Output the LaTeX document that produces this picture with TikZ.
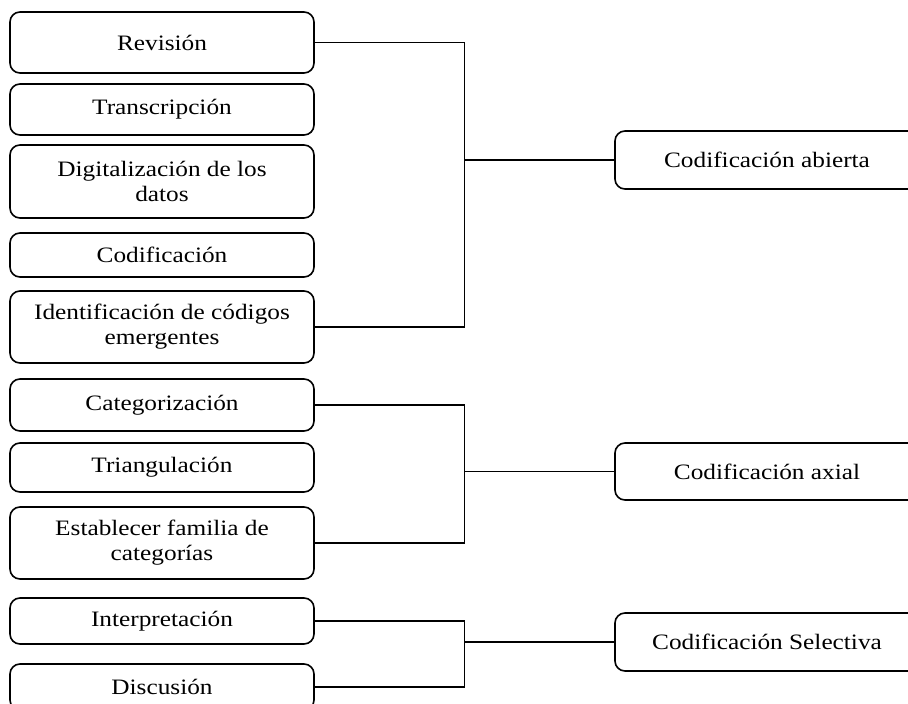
\documentclass[tikz,border=0pt]{standalone}
\usepackage{fontspec}
\setmainfont{Liberation Serif}[FakeStretch=1.15]
\usetikzlibrary{calc}

\begin{document}
\begin{tikzpicture}[
    x=1pt, y=-1pt,
    every node/.style={font=\fontsize{22}{25}\selectfont},
    stepbox/.style={draw, line width=1.6pt, rounded corners=10pt, minimum width=304pt, align=center, inner sep=0pt},
    link/.style={line width=1.2pt}
]
\useasboundingbox (0,0) rectangle (908,704);
\clip (0,0) rectangle (908,704);

% left column
\node[stepbox, minimum height=61pt] (rev) at (162,42.5) {Revisión};
\node[stepbox, minimum height=51pt] (tra) at (162,109.5) {Transcripción};
\node[stepbox, minimum height=73pt] (dig) at (162,181.5) {Digitalización de los\\datos};
\node[stepbox, minimum height=44pt] (cod) at (162,255) {Codificación};
\node[stepbox, minimum height=72pt] (ide) at (162,327) {Identificación de códigos\\emergentes};
\node[stepbox, minimum height=52pt] (cat) at (162,405) {Categorización};
\node[stepbox, minimum height=49pt] (tri) at (162,467.5) {Triangulación};
\node[stepbox, minimum height=72pt] (est) at (162,543) {Establecer familia de\\categorías};
\node[stepbox, minimum height=46pt] (int) at (162,621) {Interpretación};
\node[stepbox, minimum height=46pt] (dis) at (162,687) {Discusión};

% right column
\node[stepbox, minimum height=58pt] (abi) at (767,160) {Codificación abierta};
\node[stepbox, minimum height=57pt] (axi) at (767,471.5) {Codificación axial};
\node[stepbox, minimum height=58pt] (sel) at (767,642) {Codificación Selectiva};

\coordinate (j1) at ($(abi.west)-(150,0)$);
\coordinate (j2) at ($(axi.west)-(150,0)$);
\coordinate (j3) at ($(sel.west)-(150,0)$);

\draw[link] (rev.east) -| (j1);
\draw[link] (ide.east) -| (j1);
\draw[link] (j1) -- (abi.west);

\draw[link] (cat.east) -| (j2);
\draw[link] (est.east) -| (j2);
\draw[link] (j2) -- (axi.west);

\draw[link] (int.east) -| (j3);
\draw[link] (dis.east) -| (j3);
\draw[link] (j3) -- (sel.west);

\end{tikzpicture}
\end{document}
